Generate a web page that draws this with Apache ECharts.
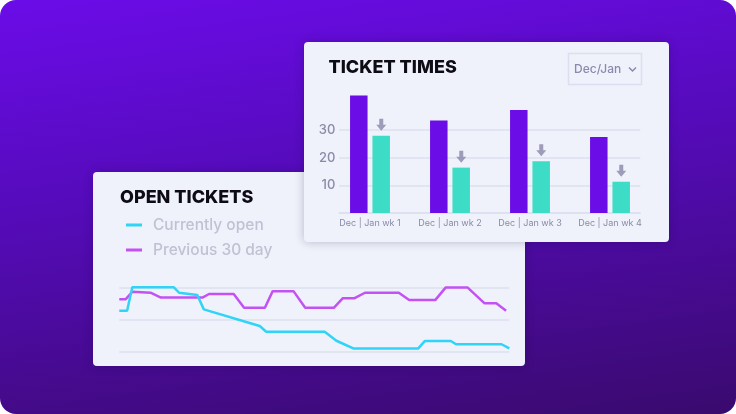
<!DOCTYPE html>
<html>
<head>
<meta charset="utf-8">
<script src="https://cdn.jsdelivr.net/npm/echarts@6/dist/echarts.min.js"></script>
<style>
  html, body { margin: 0; padding: 0; background: #fff; }
  #chart {
    width: 736px; height: 414px; border-radius: 16px; overflow: hidden;
    background: linear-gradient(172deg, #6b0ce8 0%, #560bbc 40%, #3a0a6e 100%);
  }
</style>
</head>
<body>
<div id="chart"></div>
<script>
// ticket times card
const weeks = ['Dec | Jan wk 1', 'Dec | Jan wk 2', 'Dec | Jan wk 3', 'Dec | Jan wk 4'];
const decTimes = [42.5, 33.4, 37.2, 27.5];
const janTimes = [27.9, 16.4, 18.7, 11.3];

// open tickets card, [day, count]
const currentlyOpen = [
  [0, 12.7], [0.6, 12.7], [1.0, 20], [4.2, 20], [4.6, 18.3], [6.0, 17.6],
  [6.5, 13.1], [10.8, 7.9], [11.3, 6.1], [15.8, 6.1], [16.7, 3.3], [18.0, 0.9],
  [23.0, 0.9], [23.5, 3.2], [25.5, 3.2], [25.9, 2.2], [29.4, 2.2], [30, 0.9]
];
const previous30 = [
  [0, 16.3], [0.5, 16.3], [1.0, 18.6], [2.4, 18.3], [3.2, 16.8], [6.4, 16.8],
  [6.9, 17.9], [8.8, 17.9], [9.6, 13.6], [11.2, 13.6], [11.8, 18.8], [13.4, 18.8],
  [14.3, 13.6], [16.5, 13.6], [17.2, 16.6], [18.1, 16.6], [18.9, 18.3], [21.5, 18.3],
  [22.3, 16.0], [24.3, 16.0], [25.1, 19.9], [26.8, 19.9], [28.1, 15.0], [29.0, 15.0],
  [29.75, 12.7]
];

const FONT = 'Inter, "Noto Sans", sans-serif';
const gridColor = '#dcdfee';
const labelColor = '#8b8aa8';

const chart = echarts.init(document.getElementById('chart'), null, { renderer: 'canvas' });

chart.setOption({
  animation: false,
  graphic: {
    elements: [
      // cards
      {
        type: 'rect', z: 1,
        shape: { x: 93, y: 172, width: 432, height: 194, r: 4 },
        style: { fill: '#eff2fa', shadowBlur: 10, shadowColor: 'rgba(20,0,60,0.25)' }
      },
      {
        type: 'rect', z: 2,
        shape: { x: 304, y: 42, width: 365, height: 200, r: 4 },
        style: { fill: '#eff2fa', shadowBlur: 10, shadowColor: 'rgba(20,0,60,0.25)' }
      },
      {
        type: 'text', z: 7,
        style: { text: 'TICKET TIMES', x: 328.5, y: 68, verticalAlign: 'middle',
          font: '800 18px ' + FONT, fill: '#0d0b14' }
      },
      {
        type: 'rect', z: 7,
        shape: { x: 568.5, y: 53.5, width: 73, height: 31 },
        style: { fill: 'none', stroke: '#dcdff0', lineWidth: 1.5 }
      },
      {
        type: 'text', z: 7,
        style: { text: 'Dec/Jan', x: 574, y: 69.5, verticalAlign: 'middle',
          font: '500 12px ' + FONT, fill: '#8a89ae' }
      },
      {
        type: 'polyline', z: 7,
        shape: { points: [[629, 67.5], [632.5, 71], [636, 67.5]] },
        style: { stroke: '#8a89ae', lineWidth: 1.5, fill: 'none' }
      },
      {
        type: 'text', z: 7,
        style: { text: 'OPEN TICKETS', x: 120, y: 198, verticalAlign: 'middle',
          font: '800 18px ' + FONT, fill: '#0d0b14' }
      }
    ]
  },
  legend: {
    data: ['Currently open', 'Previous 30 day'],
    orient: 'vertical',
    left: 126,
    top: 215,
    padding: 0,
    itemGap: 5,
    itemWidth: 16,
    itemHeight: 3,
    icon: 'rect',
    selectedMode: false,
    textStyle: { color: '#c0c2d4', fontSize: 15.5, lineHeight: 20, fontFamily: FONT,
      fontWeight: 500, padding: [0, 0, 0, 6] }
  },
  grid: [
    { left: 330, top: 88.5, width: 320, height: 124.5 },
    { left: 339.3, top: 130, width: 301, height: 83 },
    { left: 119.3, top: 287.3, width: 390, height: 64 }
  ],
  xAxis: [
    {
      gridIndex: 0, type: 'category', data: weeks, z: 5,
      axisLine: { show: false }, axisTick: { show: false },
      axisLabel: { color: labelColor, fontSize: 9, fontFamily: FONT, margin: 6,
        interval: 0, hideOverlap: false }
    },
    {
      gridIndex: 1, type: 'value', min: 0, max: 1, z: 5,
      axisLine: { show: true, lineStyle: { color: gridColor, width: 1.5 } },
      axisTick: { show: false }, axisLabel: { show: false }, splitLine: { show: false }
    },
    {
      gridIndex: 2, type: 'value', min: 0, max: 30, show: false
    }
  ],
  yAxis: [
    { gridIndex: 0, type: 'value', min: 0, max: 45, show: false },
    {
      gridIndex: 1, type: 'value', min: 0, max: 30, interval: 10, z: 5,
      axisLine: { show: false }, axisTick: { show: false },
      axisLabel: { color: labelColor, fontSize: 13, fontWeight: 500, fontFamily: FONT,
        margin: 4, showMinLabel: false },
      splitLine: { lineStyle: { color: gridColor, width: 1.5 } }
    },
    {
      gridIndex: 2, type: 'value', min: 0, max: 20, interval: 10, z: 5,
      axisLine: { show: false }, axisTick: { show: false }, axisLabel: { show: false },
      splitLine: { lineStyle: { color: gridColor, width: 1.5 } }
    }
  ],
  series: [
    {
      name: 'Dec', type: 'bar', xAxisIndex: 0, yAxisIndex: 0, z: 6,
      data: decTimes, barWidth: 17.5, barGap: '28%',
      itemStyle: { color: '#6a0de6' }
    },
    {
      name: 'Jan', type: 'bar', xAxisIndex: 0, yAxisIndex: 0, z: 6,
      data: janTimes, barWidth: 17.5,
      itemStyle: { color: '#3ddcc6' }
    },
    {
      name: 'drop', type: 'scatter', xAxisIndex: 0, yAxisIndex: 0, z: 6,
      data: janTimes,
      symbol: 'path://M3,0 L7,0 L7,6 L10,6 L5,12 L0,6 L3,6 Z',
      symbolSize: [10, 12], symbolOffset: [11.25, -11],
      itemStyle: { color: '#8a86a8' }
    },
    {
      name: 'Previous 30 day', type: 'line', xAxisIndex: 2, yAxisIndex: 2, z: 6,
      data: previous30, showSymbol: false, symbol: 'none',
      lineStyle: { color: '#c451f4', width: 2.5 }, itemStyle: { color: '#c451f4' }
    },
    {
      name: 'Currently open', type: 'line', xAxisIndex: 2, yAxisIndex: 2, z: 6,
      data: currentlyOpen, showSymbol: false, symbol: 'none',
      lineStyle: { color: '#2fd4f7', width: 2.5 }, itemStyle: { color: '#2fd4f7' }
    }
  ]
});
</script>
</body>
</html>
